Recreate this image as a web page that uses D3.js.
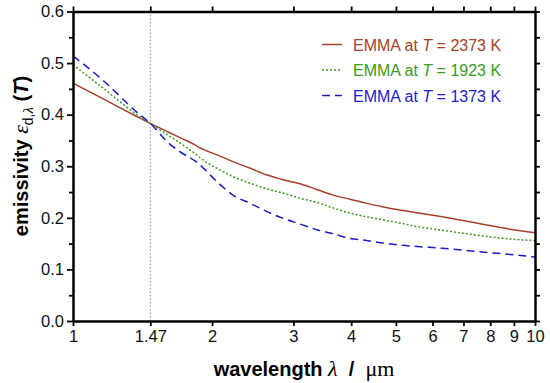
<!DOCTYPE html>
<meta charset="utf-8">
<style>
body { margin: 0; background: #fff; }
svg { font-family: "Liberation Sans", Arial, sans-serif; }
.axis path, .axis line { stroke: #000; }
.axis path { stroke-width: 2.5px; }
.axis line { stroke-width: 1.8px; }
.axis text { font-size: 16.5px; fill: #111; }
.guide { stroke: #888; stroke-width: 1px; stroke-dasharray: 1.5,2; }
.series { fill: none; stroke-width: 1.5px; }
.label { font-size: 20px; font-weight: bold; }
.legend text { font-size: 16px; }
</style>
<body>
<svg width="550" height="383"></svg>

<script src="https://d3js.org/d3.v7.min.js"></script>
<script>

// wavelength in um (log axis)
const wavelength = [1, 1.16, 1.37, 1.47, 1.62, 1.70, 1.77, 1.84, 1.88, 2.05, 2.22, 2.42, 2.63, 2.85, 3.10, 3.37, 3.66, 3.98, 4.32, 4.70, 5.10, 5.64, 6.30, 6.88, 7.86, 8.83, 10];

// spectral directional emissivity
const emis2373 = [0.461, 0.431, 0.397, 0.383, 0.365, 0.356, 0.349, 0.341, 0.336, 0.322, 0.309, 0.296, 0.283, 0.274, 0.266, 0.255, 0.244, 0.236, 0.228, 0.221, 0.215, 0.209, 0.202, 0.196, 0.186, 0.178, 0.171];
const emis1923 = [0.497, 0.452, 0.401, 0.383, 0.358, 0.346, 0.335, 0.324, 0.317, 0.296, 0.280, 0.267, 0.256, 0.248, 0.238, 0.230, 0.219, 0.209, 0.202, 0.196, 0.190, 0.182, 0.176, 0.171, 0.164, 0.159, 0.156];
const emis1373 = [0.514, 0.467, 0.406, 0.383, 0.343, 0.329, 0.319, 0.310, 0.303, 0.270, 0.244, 0.228, 0.212, 0.199, 0.188, 0.177, 0.169, 0.160, 0.156, 0.151, 0.147, 0.144, 0.141, 0.138, 0.133, 0.129, 0.124];

const seriesTemps = ["2373", "1923", "1373"];
const seriesColors = ["#a8402a", "#3c9a1c", "#1c1cc8"];
const seriesDash = [null, "2,2", "8,5"];

const xTicks = [1, 1.47, 2, 3, 4, 5, 6, 7, 8, 9, 10];
const yTicks = [0, 0.1, 0.2, 0.3, 0.4, 0.5, 0.6];
const yMinorTicks = [0.05, 0.15, 0.25, 0.35, 0.45, 0.55];
const yAllTicks = [0, 0.05, 0.1, 0.15, 0.2, 0.25, 0.3, 0.35, 0.4, 0.45, 0.5, 0.55, 0.6];
const crossing = 1.47;

const svg = d3.select("svg");
const margin = {left: 73, right: 15, top: 11.5, bottom: 62};
const W = 550, H = 383;

const x = d3.scaleLog().domain([1, 10]).range([margin.left, W - margin.right]);
const y = d3.scaleLinear().domain([0, 0.6]).range([H - margin.bottom, margin.top]);

// dotted guide at 1.47 um
svg.append("line").attr("class", "guide")
  .attr("x1", x(crossing)).attr("x2", x(crossing))
  .attr("y1", y(0.6)).attr("y2", y(0));

// curves
const series = [emis2373, emis1923, emis1373];
const line = d3.line()
  .x((d, i) => x(wavelength[i]))
  .y(d => y(d))
  .curve(d3.curveMonotoneX);

series.forEach(function(vals, k) {
  svg.append("path").attr("class", "series")
    .attr("d", line(vals))
    .attr("stroke", seriesColors[k])
    .attr("stroke-dasharray", seriesDash[k]);
});

// axes
svg.append("g").attr("class", "axis")
  .attr("transform", `translate(0,${y(0)})`)
  .call(d3.axisBottom(x).tickValues(xTicks).tickFormat(d => String(d)).tickSize(5).tickSizeOuter(0).tickPadding(4));

svg.append("g").attr("class", "axis")
  .attr("transform", `translate(0,${y(0.6)})`)
  .call(d3.axisTop(x).tickValues(xTicks).tickFormat("").tickSize(5).tickSizeOuter(0));

svg.append("g").attr("class", "axis")
  .attr("transform", `translate(${x(1)},0)`)
  .call(d3.axisLeft(y).tickValues(yTicks).tickFormat(d3.format(".1f")).tickSize(6).tickSizeOuter(0).tickPadding(3));

svg.append("g").attr("class", "axis")
  .attr("transform", `translate(${x(1)},0)`)
  .call(d3.axisLeft(y).tickValues(yMinorTicks).tickFormat("").tickSize(4).tickSizeOuter(0))
  .select(".domain").remove();

svg.append("g").attr("class", "axis")
  .attr("transform", `translate(${x(10)},0)`)
  .call(d3.axisRight(y).tickValues(yAllTicks).tickFormat("").tickSize(5).tickSizeOuter(0));

// axis titles
const xl = svg.append("text").attr("class", "label")
  .attr("x", (x(1) + x(10)) / 2).attr("y", 376)
  .attr("text-anchor", "middle");
xl.append("tspan").text("wavelength ");
xl.append("tspan").attr("font-family", "Liberation Serif, serif").attr("font-style", "italic").attr("font-weight", "normal").attr("font-size", 22).text("λ");
xl.append("tspan").text("\u00a0 /\u00a0 ");
xl.append("tspan").attr("font-family", "Liberation Serif, serif").attr("font-weight", "normal").attr("font-size", 22).text("μm");

const yl = svg.append("text").attr("class", "label")
  .attr("transform", "translate(28,156) rotate(-90)")
  .attr("text-anchor", "middle");
yl.append("tspan").text("emissivity ");
yl.append("tspan").attr("font-family", "Liberation Serif, serif").attr("font-style", "italic").attr("font-weight", "normal").attr("font-size", 22).text("ε");
yl.append("tspan").attr("font-weight", "normal").attr("font-size", 14).attr("dy", 5).text("d,");
yl.append("tspan").attr("font-family", "Liberation Serif, serif").attr("font-style", "italic").attr("font-weight", "normal").attr("font-size", 15).text("λ");
yl.append("tspan").attr("dy", -5).text(" (");
yl.append("tspan").attr("font-style", "italic").text("T");
yl.append("tspan").text(")");

// legend
const legend = svg.append("g").attr("class", "legend");
seriesTemps.forEach(function(t, k) {
  const by = 50.5 + k * 25.5;
  legend.append("line")
    .attr("x1", 322).attr("x2", 342)
    .attr("y1", by - 6).attr("y2", by - 6)
    .attr("stroke", seriesColors[k]).attr("stroke-width", 1.5)
    .attr("stroke-dasharray", seriesDash[k]);
  const tx = legend.append("text").attr("x", 353).attr("y", by).attr("fill", seriesColors[k]);
  tx.append("tspan").text("EMMA at ");
  tx.append("tspan").attr("font-style", "italic").text("T");
  tx.append("tspan").text(" = " + t + " K");
});

</script>
</body>
